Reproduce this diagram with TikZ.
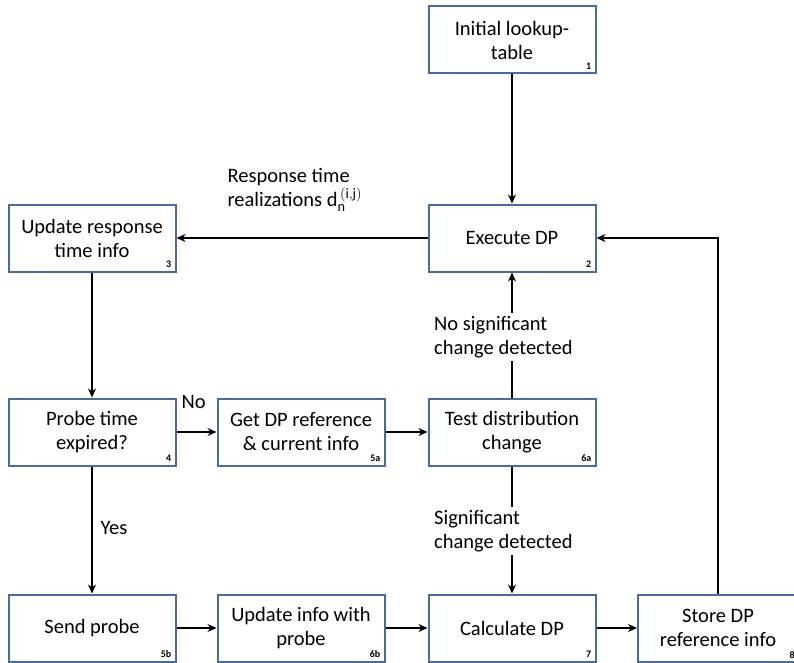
\documentclass[tikz,border=0pt]{standalone}
\usepackage{fontspec}
\setmainfont{Carlito}
\usetikzlibrary{arrows.meta}
\definecolor{boxblue}{HTML}{4A6C9B}
\tikzset{
  x=1pt,y=-1pt,
  box/.style={draw=boxblue,line width=2pt,minimum width=167pt,minimum height=67pt,align=center,font=\fontsize{20.5}{24}\selectfont,inner sep=2pt},
  num/.style={font=\bfseries\fontsize{10}{11}\selectfont,anchor=south east,inner sep=0pt},
  conn/.style={line width=1.6pt,-{Stealth[length=9pt,width=8pt]}},
  plain/.style={line width=1.6pt},
  lab/.style={font=\fontsize{20.5}{24}\selectfont,align=left}
}
\begin{document}
\begin{tikzpicture}
\useasboundingbox (0,0) rectangle (794,663);
\node[box] (b1) at (512,40) {Initial lookup-\\table};
\node[num] at ([xshift=-5pt,yshift=5pt]b1.south east) {1};
\node[box] (b2) at (512,238) {Execute DP};
\node[num] at ([xshift=-5pt,yshift=5pt]b2.south east) {2};
\node[box] (b3) at (92,238) {Update response\\time info};
\node[num] at ([xshift=-5pt,yshift=5pt]b3.south east) {3};
\node[box] (b4) at (92,432) {Probe time\\expired?};
\node[num] at ([xshift=-5pt,yshift=5pt]b4.south east) {4};
\node[box] (b5a) at (301,432) {Get DP reference\\\& current info};
\node[num] at ([xshift=-5pt,yshift=5pt]b5a.south east) {5a};
\node[box] (b6a) at (512,432) {Test distribution\\change};
\node[num] at ([xshift=-5pt,yshift=5pt]b6a.south east) {6a};
\node[box] (b5b) at (92,628) {Send probe};
\node[num] at ([xshift=-5pt,yshift=5pt]b5b.south east) {5b};
\node[box] (b6b) at (301,628) {Update info with\\probe};
\node[num] at ([xshift=-5pt,yshift=5pt]b6b.south east) {6b};
\node[box] (b7) at (512,628) {Calculate DP};
\node[num] at ([xshift=-5pt,yshift=5pt]b7.south east) {7};
\node[box,minimum width=160pt] (b8) at (718,628) {Store DP\\reference info};
\node[num] at ([xshift=-4pt,yshift=4pt]b8.south east) {8};
% labels
\node[lab,anchor=west] (lresp) at (224,190) {Response time\\realizations d$_\mathrm{n}^{\,\mathrm{(i,j)}}$};
\node[lab,anchor=west] (lno) at (178,402) {No};
\node[lab,anchor=west] (lyes) at (97,528) {Yes};
\node[lab,anchor=west,fill=white,inner sep=3pt] (lnosig) at (431,337) {No significant\\change detected};
\node[lab,anchor=west,fill=white,inner sep=3pt] (lsig) at (431,531) {Significant\\change detected};
% connectors
\draw[conn] (b1) -- (b2);
\draw[conn] (b2) -- (b3);
\draw[conn] (b3) -- (b4);
\draw[conn] (b4) -- (b5a);
\draw[conn] (b5a) -- (b6a);
\draw[plain] (b6a.north) -- (lnosig.south -| b6a.north);
\draw[conn] (lnosig.north -| b6a.north) -- (b2.south);
\draw[plain] (b6a.south) -- (lsig.north -| b6a.south);
\draw[conn] (lsig.south -| b6a.south) -- (b7.north);
\draw[conn] (b4) -- (b5b);
\draw[conn] (b5b) -- (b6b);
\draw[conn] (b6b) -- (b7);
\draw[conn] (b7) -- (b8);
\draw[conn] (b8.north) |- (b2.east);
\end{tikzpicture}
\end{document}
